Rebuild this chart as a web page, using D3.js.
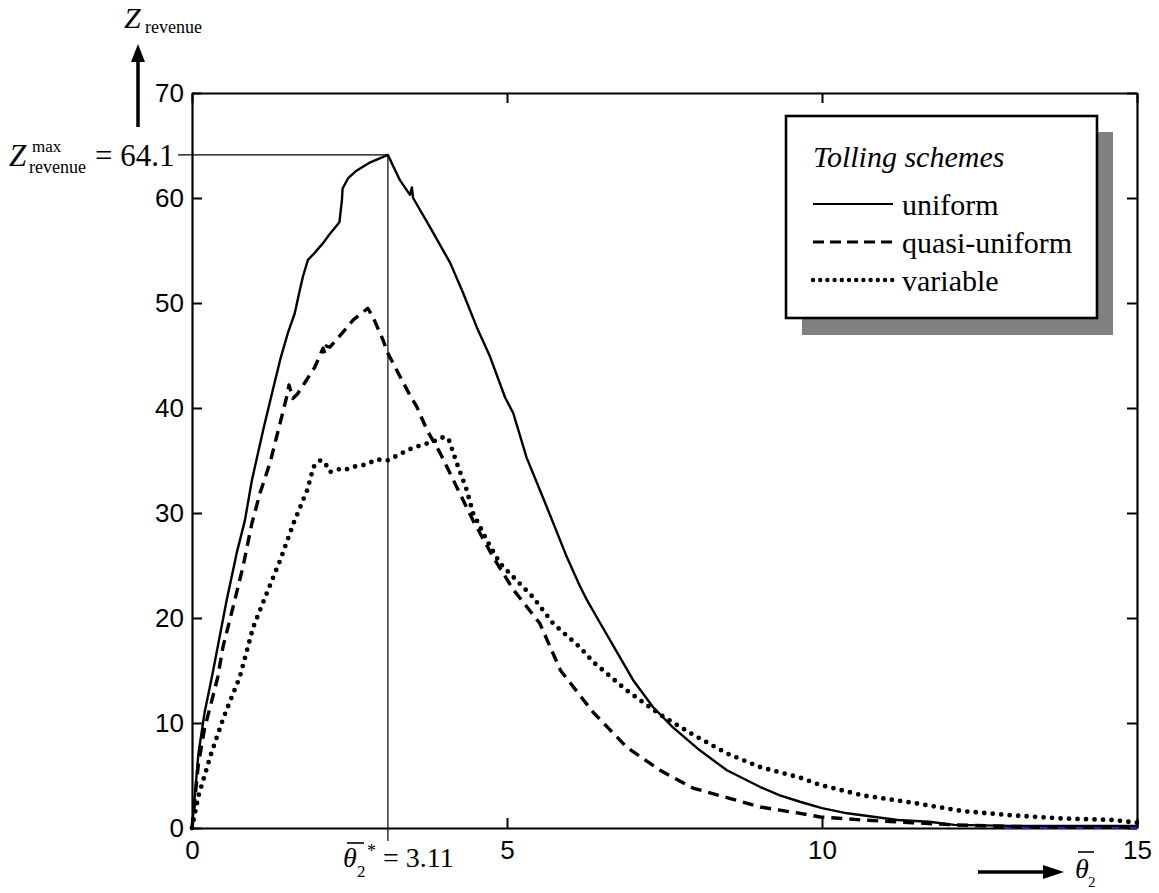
<!DOCTYPE html>
<html>
<head>
<meta charset="utf-8">
<script src="https://cdn.jsdelivr.net/npm/d3@7"></script>
<style>
  body { margin: 0; background: #fff; }
  svg { display: block; }
  .tick text { font-family: "Liberation Sans", Arial, sans-serif; font-size: 26px; fill: #000; }
  .serif { font-family: "Liberation Serif", "Times New Roman", serif; fill: #000; }
</style>
</head>
<body>
<script>
// values
var uniform_x = [0, 0.03, 0.1, 0.2, 0.33, 0.55, 0.71, 0.84, 0.95, 1.13, 1.27, 1.4, 1.52, 1.63, 1.71, 1.76, 1.84, 1.92, 2.08, 2.19, 2.34, 2.38, 2.39, 2.48, 2.61, 2.83, 3.11, 3.3, 3.46, 3.49, 3.51, 3.78, 4.1, 4.3, 4.52, 4.73, 4.97, 5.1, 5.31, 5.63, 5.95, 6.16, 6.27, 6.48, 6.75, 7.0, 7.32, 7.63, 8.06, 8.49, 9.02, 9.33, 9.65, 10.0, 10.4, 11.2, 11.7, 12.1, 13, 14, 15];
var uniform_y = [0, 2, 7, 11, 14.8, 21.7, 26.2, 29.3, 33.1, 37.9, 41.4, 44.6, 47.1, 49, 51.2, 52.5, 54.1, 54.6, 55.7, 56.6, 57.7, 59.8, 60.9, 61.9, 62.6, 63.4, 64.1, 61.7, 60.3, 61.0, 60.0, 57.2, 53.8, 51, 47.7, 44.9, 41, 39.5, 35.3, 30.6, 25.8, 23, 21.7, 19.5, 16.7, 14.1, 11.5, 9.6, 7.4, 5.5, 3.9, 3.1, 2.5, 1.9, 1.4, 0.76, 0.6, 0.3, 0.2, 0.2, 0.2];

var quasi_x = [0, 0.1, 0.2, 0.3, 0.41, 0.49, 0.65, 0.81, 0.95, 1.08, 1.24, 1.4, 1.5, 1.54, 1.6, 1.67, 1.79, 1.95, 2.08, 2.11, 2.13, 2.19, 2.38, 2.56, 2.79, 2.87, 3.03, 3.11, 3.25, 3.46, 3.57, 3.73, 3.94, 4.2, 4.46, 4.78, 5.1, 5.52, 5.85, 6.37, 6.9, 7.43, 7.95, 8.49, 9.02, 9.33, 9.65, 9.97, 10.65, 11.44, 12.1, 13, 14, 15];
var quasi_y = [0, 6, 9.5, 11.8, 14.4, 17.2, 21, 24.9, 29, 31.9, 34.8, 38.6, 41, 42.2, 40.9, 41.3, 42.4, 43.9, 45.7, 45.2, 45.9, 45.8, 47.1, 48.4, 49.5, 48.7, 46.5, 45.2, 43.6, 41.2, 40.1, 37.9, 35.7, 32.5, 29.3, 25.8, 22.7, 19.5, 15, 11, 7.7, 5.5, 3.8, 2.9, 2.0, 1.7, 1.4, 1.05, 0.76, 0.5, 0.3, 0.15, 0.1, 0.1];

var variable_x = [0, 0.1, 0.3, 0.5, 0.76, 0.97, 1.19, 1.4, 1.61, 1.83, 1.93, 2.03, 2.1, 2.19, 2.35, 2.43, 2.56, 2.75, 2.94, 3.1, 3.5, 3.83, 3.98, 4.07, 4.2, 4.36, 4.46, 4.68, 4.89, 5.1, 5.41, 5.73, 5.84, 6.16, 6.37, 6.9, 7.43, 7.95, 8.49, 9.02, 9.33, 9.65, 9.97, 10.65, 11.44, 12.24, 13.03, 13.83, 14.62, 15];
var variable_y = [0, 3, 7, 10.5, 14.4, 19.1, 22.4, 25.5, 29, 32.2, 34.4, 35, 34.9, 33.9, 34.2, 34.1, 34.4, 34.6, 35.1, 35, 36.2, 36.8, 37.2, 37.1, 34.8, 32.2, 30, 27.4, 25.2, 23.9, 22, 19.5, 18.9, 17.2, 15.8, 13.1, 10.8, 8.9, 7.1, 5.8, 5.3, 4.8, 4.1, 3.1, 2.4, 1.6, 1.2, 0.9, 0.76, 0.5];

// short blue dashed piece lying on the axis at the far right
var tail_x = [12.9, 15];
var tail_y = [0.05, 0.05];

var x_ticks = [0, 5, 10, 15];
var y_ticks = [0, 10, 20, 30, 40, 50, 60, 70];

var legend_names = ['uniform', 'quasi-uniform', 'variable'];
var peak_x = 3.11;
var peak_y = 64.1;

var width = 1159;
var height = 893;
var plot = { left: 192, right: 1137, top: 93, bottom: 828 };
var tick_len = 10;

var svg = d3.select('body')
    .append('svg')
    .attr('width', width)
    .attr('height', height);

var x = d3.scaleLinear().domain([0, 15]).range([plot.left, plot.right]);
var y = d3.scaleLinear().domain([0, 70]).range([plot.bottom, plot.top]);

// axes, ticks pointing inwards on all four sides
svg.append('g')
    .attr('transform', `translate(0, ${plot.bottom})`)
    .call(d3.axisBottom(x).tickValues(x_ticks).tickSizeInner(-tick_len).tickSizeOuter(0).tickPadding(13));
svg.append('g')
    .attr('transform', `translate(${plot.left}, 0)`)
    .call(d3.axisLeft(y).tickValues(y_ticks).tickSizeInner(-tick_len).tickSizeOuter(0).tickPadding(8));
svg.append('g')
    .attr('transform', `translate(0, ${plot.top})`)
    .call(d3.axisTop(x).tickValues(x_ticks).tickSizeInner(-tick_len).tickSizeOuter(0).tickFormat(''));
svg.append('g')
    .attr('transform', `translate(${plot.right}, 0)`)
    .call(d3.axisRight(y).tickValues(y_ticks).tickSizeInner(-tick_len).tickSizeOuter(0).tickFormat(''));

svg.selectAll('.domain').attr('stroke', '#000').attr('stroke-width', 2.2);
svg.selectAll('.tick line').attr('stroke', '#000').attr('stroke-width', 2);
svg.selectAll('.tick text').attr('fill', '#000');

// marker lines for the maximum
svg.append('line')
    .attr('x1', 178).attr('x2', x(peak_x))
    .attr('y1', y(peak_y)).attr('y2', y(peak_y))
    .attr('stroke', '#000').attr('stroke-width', 1.2);
svg.append('line')
    .attr('x1', x(peak_x)).attr('x2', x(peak_x))
    .attr('y1', y(peak_y)).attr('y2', plot.bottom + 13)
    .attr('stroke', '#000').attr('stroke-width', 1.2);

function zip(xs, ys) {
    return xs.map(function(d, i) { return [d, ys[i]]; });
}

var line = d3.line()
    .x(function(d) { return x(d[0]); })
    .y(function(d) { return y(d[1]); });

var styles = [
    { data: zip(uniform_x, uniform_y), width: 2.4, dash: null, cap: 'butt' },
    { data: zip(quasi_x, quasi_y), width: 3.4, dash: '11,7', cap: 'butt' },
    { data: zip(variable_x, variable_y), width: 4.8, dash: '0,8.5', cap: 'round' }
];

var curves = svg.append('g').attr('id', 'curves');

curves.append('path')
    .datum(zip(tail_x, tail_y))
    .attr('d', line)
    .attr('fill', 'none')
    .attr('stroke', '#1a1aff')
    .attr('stroke-width', 3)
    .attr('stroke-dasharray', '10,8');

curves.selectAll('path.series').data(styles)
    .enter()
    .append('path')
    .attr('class', 'series')
    .attr('d', function(d) { return line(d.data); })
    .attr('fill', 'none')
    .attr('stroke', '#000')
    .attr('stroke-width', function(d) { return d.width; })
    .attr('stroke-dasharray', function(d) { return d.dash; })
    .attr('stroke-linecap', function(d) { return d.cap; })
    .attr('stroke-linejoin', 'round');

// legend with drop shadow
var legend = svg.append('g').attr('transform', 'translate(786, 116)');
legend.append('rect')
    .attr('x', 16).attr('y', 16)
    .attr('width', 311).attr('height', 203)
    .attr('fill', '#808080');
legend.append('rect')
    .attr('width', 311).attr('height', 202)
    .attr('fill', '#fff')
    .attr('stroke', '#000')
    .attr('stroke-width', 2.6);
legend.append('text')
    .attr('class', 'serif')
    .attr('x', 27).attr('y', 51)
    .style('font-size', '30px')
    .style('font-style', 'italic')
    .text('Tolling schemes');

var rows = legend.selectAll('g.row').data(legend_names)
    .enter()
    .append('g')
    .attr('class', 'row')
    .attr('transform', function(d, i) { return `translate(0, ${99 + i * 38})`; });
rows.append('line')
    .attr('x1', 27).attr('x2', 107)
    .attr('y1', -11).attr('y2', -11)
    .attr('stroke', '#000')
    .attr('stroke-width', function(d, i) { return [2.2, 3.2, 4.4][i]; })
    .attr('stroke-dasharray', function(d, i) { return [null, '11,6', '0,7.2'][i]; })
    .attr('stroke-linecap', function(d, i) { return styles[i].cap; });
rows.append('text')
    .attr('class', 'serif')
    .attr('x', 116).attr('y', 0)
    .style('font-size', '30px')
    .text(function(d) { return d; });

// axis names and arrows
var arrows = svg.append('g').attr('id', 'arrows');
arrows.append('line')
    .attr('x1', 138).attr('x2', 138).attr('y1', 127).attr('y2', 58)
    .attr('stroke', '#000').attr('stroke-width', 3.5);
arrows.append('path')
    .attr('d', 'M138,44 L131,62 L145,62 Z')
    .attr('fill', '#000');
arrows.append('line')
    .attr('x1', 978).attr('x2', 1048).attr('y1', 872).attr('y2', 872)
    .attr('stroke', '#000').attr('stroke-width', 3.5);
arrows.append('path')
    .attr('d', 'M1064,872 L1043,865 L1043,879 Z')
    .attr('fill', '#000');

var zlabel = svg.append('text').attr('class', 'serif').attr('x', 124).attr('y', 28);
zlabel.append('tspan').style('font-size', '30px').style('font-style', 'italic').text('Z');
zlabel.append('tspan').attr('x', 145).attr('y', 33).style('font-size', '18px').text('revenue');

var zmax = svg.append('text').attr('class', 'serif').attr('x', 9).attr('y', 166);
zmax.append('tspan').style('font-size', '31px').style('font-style', 'italic').text('Z');
zmax.append('tspan').attr('x', 32).attr('y', 152).style('font-size', '17px').text('max');
zmax.append('tspan').attr('x', 29).attr('y', 173).style('font-size', '18px').text('revenue');
zmax.append('tspan').attr('x', 95).attr('y', 166).style('font-size', '31px').text('= ' + peak_y);

// theta with bar, star and value under the peak
var tlabel = svg.append('text').attr('class', 'serif').attr('x', 343).attr('y', 867);
tlabel.append('tspan').style('font-size', '28px').style('font-style', 'italic').text('θ');
tlabel.append('tspan').attr('x', 357).attr('y', 877).style('font-size', '17px').text('2');
tlabel.append('tspan').attr('x', 367).attr('y', 857).style('font-size', '18px').text('*');
tlabel.append('tspan').attr('x', 383).attr('y', 867).style('font-size', '28px').text('= ' + peak_x);
svg.append('line')
    .attr('x1', 347).attr('x2', 364).attr('y1', 843).attr('y2', 843)
    .attr('stroke', '#000').attr('stroke-width', 1.6);

var xlabel = svg.append('text').attr('class', 'serif').attr('x', 1075).attr('y', 878);
xlabel.append('tspan').style('font-size', '28px').style('font-style', 'italic').text('θ');
xlabel.append('tspan').attr('x', 1088).attr('y', 887).style('font-size', '15px').text('2');
svg.append('line')
    .attr('x1', 1078).attr('x2', 1094).attr('y1', 852).attr('y2', 852)
    .attr('stroke', '#000').attr('stroke-width', 1.6);
</script>
</body>
</html>
